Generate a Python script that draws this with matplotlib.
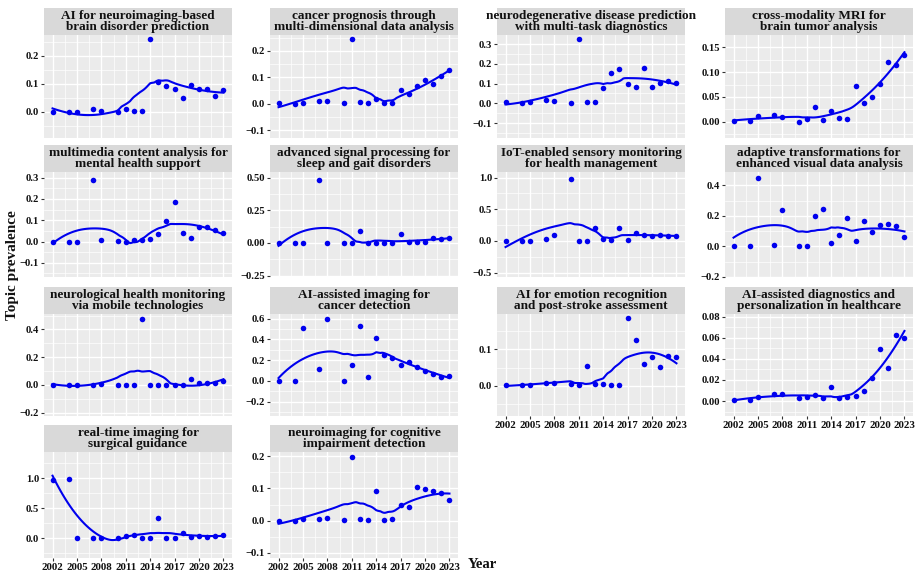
import numpy as np
import matplotlib
matplotlib.use("Agg")
import matplotlib.pyplot as plt

plt.rcParams['font.family'] = ['Liberation Serif', 'DejaVu Serif']
plt.rcParams['font.weight'] = 'bold'

years = [2002, 2004, 2005, 2007, 2008, 2010, 2011, 2012, 2013, 2014, 2015,
         2016, 2017, 2018, 2019, 2020, 2021, 2022, 2023]

titles = [
    "AI for neuroimaging-based\nbrain disorder prediction",
    "cancer prognosis through\nmulti-dimensional data analysis",
    "neurodegenerative disease prediction\nwith multi-task diagnostics",
    "cross-modality MRI for\nbrain tumor analysis",
    "multimedia content analysis for\nmental health support",
    "advanced signal processing for\nsleep and gait disorders",
    "IoT-enabled sensory monitoring\nfor health management",
    "adaptive transformations for\nenhanced visual data analysis",
    "neurological health monitoring\nvia mobile technologies",
    "AI-assisted imaging for\ncancer detection",
    "AI for emotion recognition\nand post-stroke assessment",
    "AI-assisted diagnostics and\npersonalization in healthcare",
    "real-time imaging for\nsurgical guidance",
    "neuroimaging for cognitive\nimpairment detection",
]

prev_neuroimaging_brain = [0.0, 0.0, 0.0, 0.008, 0.004, 0.0, 0.01, 0.004, 0.004, 0.258,
                           0.106, 0.093, 0.082, 0.049, 0.096, 0.082, 0.080, 0.055, 0.077]
prev_cancer_prognosis = [0.003, 0.0, 0.004, 0.009, 0.009, 0.003, 0.243, 0.006, 0.004, 0.019,
                         0.004, 0.004, 0.050, 0.037, 0.067, 0.090, 0.076, 0.105, 0.127]
prev_neurodegenerative = [0.007, 0.002, 0.005, 0.015, 0.012, 0.003, 0.325, 0.005, 0.005, 0.078,
                          0.153, 0.173, 0.097, 0.081, 0.178, 0.081, 0.102, 0.112, 0.105]
prev_cross_modality = [0.002, 0.001, 0.011, 0.013, 0.010, 0.0, 0.005, 0.030, 0.003, 0.022,
                       0.007, 0.005, 0.072, 0.038, 0.050, 0.077, 0.120, 0.114, 0.135]
prev_multimedia = [0.0, 0.0, 0.0, 0.29, 0.005, 0.003, 0.0, 0.005, 0.005, 0.013,
                   0.033, 0.097, 0.187, 0.040, 0.017, 0.068, 0.070, 0.052, 0.040]
prev_signal = [0.0, 0.0, 0.0, 0.48, 0.0, 0.0, 0.0, 0.088, 0.0, 0.0,
               0.0, 0.0, 0.067, 0.008, 0.005, 0.008, 0.040, 0.030, 0.036]
prev_iot = [0.0, 0.0, 0.0, 0.037, 0.096, 0.98, 0.0, 0.0, 0.197, 0.037,
            0.021, 0.197, 0.016, 0.117, 0.096, 0.080, 0.096, 0.075, 0.080]
prev_adaptive = [0.0, 0.0, 0.45, 0.011, 0.236, 0.0, 0.004, 0.199, 0.243, 0.024,
                 0.072, 0.188, 0.037, 0.164, 0.094, 0.142, 0.144, 0.131, 0.059]
prev_mobile = [0.0, 0.0, 0.0, 0.0, 0.005, 0.0, 0.0, 0.0, 0.478, 0.0,
               0.0, 0.0, 0.0, 0.0, 0.043, 0.012, 0.010, 0.014, 0.029]
prev_cancer_imaging = [0.0, 0.0, 0.509, 0.112, 0.602, 0.0, 0.154, 0.534, 0.042, 0.419,
                       0.246, 0.221, 0.154, 0.186, 0.134, 0.099, 0.067, 0.035, 0.048]
prev_emotion = [0.001, 0.001, 0.002, 0.008, 0.007, 0.006, 0.003, 0.053, 0.005, 0.006,
                0.001, 0.002, 0.185, 0.127, 0.060, 0.080, 0.051, 0.082, 0.078]
prev_personalization = [0.001, 0.001, 0.004, 0.007, 0.007, 0.003, 0.004, 0.006, 0.003, 0.013,
                        0.003, 0.004, 0.005, 0.010, 0.022, 0.049, 0.031, 0.063, 0.060]
prev_surgical = [0.98, 0.983, 0.0, 0.0, 0.0, 0.0, 0.034, 0.056, 0.0, 0.0,
                 0.339, 0.0, 0.0, 0.085, 0.023, 0.034, 0.011, 0.034, 0.056]
prev_cognitive = [0.0, 0.0, 0.005, 0.005, 0.007, 0.001, 0.197, 0.005, 0.002, 0.092,
                  0.002, 0.004, 0.050, 0.041, 0.103, 0.097, 0.092, 0.087, 0.064]

series = [prev_neuroimaging_brain, prev_cancer_prognosis, prev_neurodegenerative,
          prev_cross_modality, prev_multimedia, prev_signal, prev_iot, prev_adaptive,
          prev_mobile, prev_cancer_imaging, prev_emotion, prev_personalization,
          prev_surgical, prev_cognitive]

y_tick_labels = [
    ["0.0", "0.1", "0.2"],
    ["−0.1", "0.0", "0.1", "0.2"],
    ["−0.1", "0.0", "0.1", "0.2", "0.3"],
    ["0.00", "0.05", "0.10", "0.15"],
    ["−0.1", "0.0", "0.1", "0.2", "0.3"],
    ["−0.25", "0.00", "0.25", "0.50"],
    ["−0.5", "0.0", "0.5", "1.0"],
    ["−0.2", "0.0", "0.2", "0.4"],
    ["−0.2", "0.0", "0.2", "0.4"],
    ["−0.2", "0.0", "0.2", "0.4", "0.6"],
    ["0.0", "0.1"],
    ["0.00", "0.02", "0.04", "0.06", "0.08"],
    ["0.0", "0.5", "1.0"],
    ["−0.1", "0.0", "0.1", "0.2"],
]

x_tick_labels = ["2002", "2005", "2008", "2011", "2014", "2017", "2020", "2023"]

# axis limits (layout)
y_limits = [(-0.094, 0.274), (-0.13, 0.26), (-0.176, 0.347), (-0.033, 0.175),
            (-0.167, 0.327), (-0.261, 0.543), (-0.571, 1.089), (-0.192, 0.487),
            (-0.225, 0.511), (-0.339, 0.646), (-0.083, 0.197), (-0.0141, 0.0825),
            (-0.333, 1.44), (-0.116, 0.213)]


def loess(x, y, xs, span=0.75):
    x = np.asarray(x, float)
    y = np.asarray(y, float)
    n = len(x)
    q = int(np.floor(n * span))
    out = []
    for x0 in xs:
        d = np.abs(x - x0)
        h = np.sort(d)[q - 1]
        w = np.clip(1 - (d / h) ** 3, 0, None) ** 3
        X = np.vstack([np.ones(n), x - x0, (x - x0) ** 2]).T
        A = X.T @ (w[:, None] * X)
        b = X.T @ (w * y)
        beta = np.linalg.solve(A, b)
        out.append(beta[0])
    return np.array(out)


W, H = 917, 572
fig = plt.figure(figsize=(W / 100, H / 100), dpi=100)

col_left = [44, 270, 497, 725]
col_w = 188
strip_top = [8, 145, 287, 425]
strip_h = 27
panel_bottom = [138, 277, 416, 558]

PANEL_BG = "#EBEBEB"
STRIP_BG = "#D9D9D9"
BLUE = "#0000EE"
TXT = "#111111"

xr = (min(years) - 0.05 * (max(years) - min(years)), max(years) + 0.05 * (max(years) - min(years)))
xt = [float(v) for v in x_tick_labels]
xminor = [(a + b) / 2 for a, b in zip(xt[:-1], xt[1:])]
xminor = [xt[0] - 1.5] + xminor + [xt[-1] + 1.5]

for i, vals in enumerate(series):
    r, c = divmod(i, 4)
    ptop = strip_top[r] + strip_h
    pb = panel_bottom[r]
    ax = fig.add_axes([col_left[c] / W, 1 - pb / H, col_w / W, (pb - ptop) / H])
    ax.set_facecolor(PANEL_BG)
    for s in ax.spines.values():
        s.set_visible(False)
    ax.set_xlim(*xr)
    ylo, yhi = y_limits[i]
    ax.set_ylim(ylo, yhi)
    yt = [float(t.replace("−", "-")) for t in y_tick_labels[i]]
    step = yt[1] - yt[0]
    ymin_ = [(a + b) / 2 for a, b in zip(yt[:-1], yt[1:])]
    ymin_ = [yt[0] - step / 2] + ymin_ + [yt[-1] + step / 2]
    for v in ymin_:
        if ylo < v < yhi:
            ax.axhline(v, color="white", lw=0.5, zorder=0)
    for v in yt:
        ax.axhline(v, color="white", lw=1.0, zorder=0)
    for v in xminor:
        ax.axvline(v, color="white", lw=0.5, zorder=0)
    for v in xt:
        ax.axvline(v, color="white", lw=1.0, zorder=0)

    xs = np.linspace(min(years), max(years), 120)
    ys = loess(years, vals, xs)
    ax.plot(xs, ys, color=BLUE, lw=1.5, zorder=3)
    ax.scatter(years, vals, s=16, color=BLUE, zorder=4, linewidths=0)

    ax.set_yticks(yt)
    ax.set_yticklabels(y_tick_labels[i], fontsize=7.7, fontweight="bold", color=TXT)
    ax.tick_params(axis="y", length=2.5, width=0.8, color="#333333", pad=1)
    bottom_panel = (r == 3) or (r == 2 and c >= 2)
    ax.set_xticks(xt)
    if bottom_panel:
        ax.set_xticklabels(x_tick_labels, fontsize=7.8, fontweight="bold", color=TXT)
        ax.tick_params(axis="x", length=2.5, width=0.8, color="#333333", pad=1)
    else:
        ax.tick_params(axis="x", length=0, labelbottom=False)

    # strip
    sax = fig.add_axes([col_left[c] / W, 1 - ptop / H, col_w / W, strip_h / H])
    sax.set_facecolor(STRIP_BG)
    sax.set_xticks([])
    sax.set_yticks([])
    for s in sax.spines.values():
        s.set_visible(False)
    sax.text(0.5, 0.5, titles[i], ha="center", va="center", fontsize=9.5,
             fontweight="bold", color=TXT, linespacing=0.88, transform=sax.transAxes)

fig.text(13 / W, 1 - 265 / H, "Topic prevalence", rotation=90, ha="center", va="center",
         fontsize=11, fontweight="bold", color=TXT)
fig.text(482 / W, 1 - 565 / H, "Year", ha="center", va="center",
         fontsize=10.5, fontweight="bold", color=TXT)

fig.savefig("out.png", dpi=100, facecolor="white")
